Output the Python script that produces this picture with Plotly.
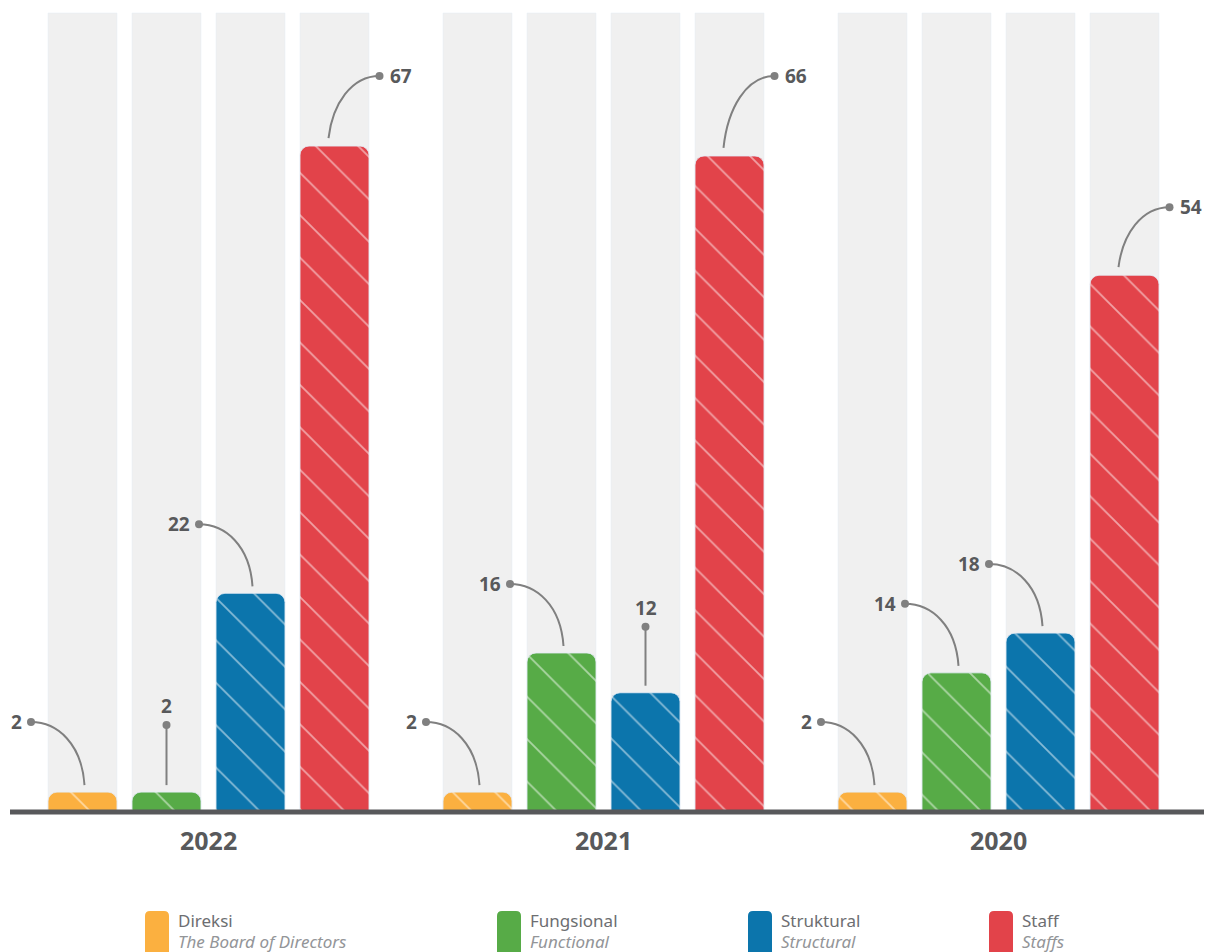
import plotly.graph_objects as go

# ---- data ----
years = ["2022", "2021", "2020"]
series_names = ["Direksi", "Fungsional", "Struktural", "Staff"]
series_en = ["The Board of Directors", "Functional", "Structural", "Staffs"]
direksi = [2, 2, 2]
fungsional = [2, 16, 14]
struktural = [22, 12, 18]
staff = [67, 66, 54]
# callout style for each bar: L = left curve, V = vertical, R = right curve
callout_styles = [["L", "V", "L", "R"], ["L", "L", "V", "R"], ["L", "L", "L", "R"]]
# height (px) of the callout dot above each bar top
callout_rise = [[70, 67, 69, 70], [70, 69, 66, 80], [70, 69, 69, 68]]

colors = ["#FBB040", "#57AB47", "#0C75AC", "#E2434A"]
BG = "#F0F0F0"
TXT = "#58595B"
LINE = "#808080"

OFF = 8                          # page body margin
W, H = 1212 - OFF, 952 - OFF
BASE_PX = 812                    # baseline in window pixels
PLOT_H = BASE_PX - OFF
PXU = 9.94                       # pixels per unit
YMAX = PLOT_H / PXU
BG_VAL = (BASE_PX - 13) / PXU
group_starts = [48, 443, 838]
BW, STEP = 69, 84

values = [direksi, fungsional, struktural, staff]

def cx(g, i):
    return group_starts[g] + BW / 2 + i * STEP

def py(p):  # window pixel y -> paper y
    return (BASE_PX - p) / PLOT_H

def px(p):  # window pixel x -> paper x
    return (p - OFF) / W

fig = go.Figure()

# background bars (own axes so they do not block corner rounding)
bx = [cx(g, i) for g in range(3) for i in range(4)]
fig.add_trace(go.Bar(x=bx, y=[BG_VAL] * len(bx), width=BW, offset=-BW / 2,
                     marker=dict(color=BG), hoverinfo="skip", showlegend=False,
                     xaxis="x", yaxis="y"))

# solid rounded bars
for i, name in enumerate(series_names):
    fig.add_trace(go.Bar(
        x=[cx(g, i) for g in range(3)], y=values[i], width=BW, offset=-BW / 2, name=name,
        marker=dict(color=colors[i], cornerradius=9), showlegend=False,
        xaxis="x2", yaxis="y2"))

# white hatch overlay
for i, name in enumerate(series_names):
    fig.add_trace(go.Bar(
        x=[cx(g, i) for g in range(3)], y=values[i], width=BW, offset=-BW / 2, name=name,
        marker=dict(color="rgba(0,0,0,0)", cornerradius=9,
                    pattern=dict(shape="\\", fgcolor="white", size=30, solidity=0.06, fillmode="overlay")),
        hoverinfo="skip", showlegend=False, xaxis="x3", yaxis="y3"))

dots_x, dots_y = [], []
shapes = []
annotations = []
for g in range(3):
    for i in range(4):
        v = values[i][g]
        c = cx(g, i)
        st = callout_styles[g][i]
        rise = callout_rise[g][i] / PXU
        if st == "L":
            dx, dy = group_starts[g] + i * STEP - 17, v + rise
            ex, ey = c + 2, v + 7 / PXU
            path = (f"M {dx},{dy} C {dx + 0.5 * (ex - dx)},{dy} {ex - 0.05 * (ex - dx)},{dy + 0.35 * (ey - dy)} {ex},{ey}")
            annotations.append(dict(x=dx - 7, y=dy, xref="x", yref="y", text=f"<b>{v}</b>", showarrow=False,
                                    xanchor="right", yanchor="middle", font=dict(size=19, color=TXT)))
        elif st == "V":
            dx, dy = c, v + rise
            ex, ey = c, v + 7 / PXU
            path = f"M {dx},{dy} L {ex},{ey}"
            annotations.append(dict(x=dx, y=dy, xref="x", yref="y", text=f"<b>{v}</b>", showarrow=False,
                                    xanchor="center", yanchor="bottom", yshift=4, font=dict(size=19, color=TXT)))
        else:
            sx, sy = c - 6, v + 8 / PXU
            dx, dy = c + 45, v + rise
            path = (f"M {sx},{sy} C {sx + 0.08 * (dx - sx)},{sy + 0.55 * (dy - sy)} {sx + 0.45 * (dx - sx)},{dy} {dx},{dy}")
            annotations.append(dict(x=dx + 8, y=dy, xref="x", yref="y", text=f"<b>{v}</b>", showarrow=False,
                                    xanchor="left", yanchor="middle", font=dict(size=19, color=TXT)))
        shapes.append(dict(type="path", path=path, xref="x", yref="y", line=dict(color=LINE, width=2)))
        dots_x.append(dx)
        dots_y.append(dy)

fig.add_trace(go.Scatter(x=dots_x, y=dots_y, mode="markers", marker=dict(size=8, color=LINE),
                         hoverinfo="skip", showlegend=False, xaxis="x3", yaxis="y3"))

# baseline
shapes.append(dict(type="line", xref="paper", yref="paper", x0=px(10), x1=px(1205), y0=0, y1=0,
                   line=dict(color=TXT, width=5)))

# year labels
for g, yr in enumerate(years):
    gc = (cx(g, 0) + cx(g, 3)) / 2
    annotations.append(dict(x=gc, y=py(840), xref="x", yref="paper", text=f"<b>{yr}</b>", showarrow=False,
                            xanchor="center", yanchor="middle", font=dict(size=25, color=TXT)))

# legend
leg_x = [145, 497, 748, 989]
for i in range(4):
    x0, x1 = leg_x[i], leg_x[i] + 24
    t, b, r = 911, 960, 5
    path = (f"M {px(x0)},{py(b)} L {px(x0)},{py(t + r)} Q {px(x0)},{py(t)} {px(x0 + r)},{py(t)} "
            f"L {px(x1 - r)},{py(t)} Q {px(x1)},{py(t)} {px(x1)},{py(t + r)} L {px(x1)},{py(b)} Z")
    shapes.append(dict(type="path", path=path, xref="paper", yref="paper", fillcolor=colors[i],
                       line=dict(width=0)))
    annotations.append(dict(x=px(x1 + 7), y=py(920), xref="paper", yref="paper", text=series_names[i],
                            showarrow=False, xanchor="left", yanchor="middle",
                            font=dict(size=17, color="#6D6E71")))
    annotations.append(dict(x=px(x1 + 7), y=py(941), xref="paper", yref="paper", text=f"<i>{series_en[i]}</i>",
                            showarrow=False, xanchor="left", yanchor="middle",
                            font=dict(size=17, color="#939598")))

ax_x = dict(range=[OFF, 1212], showgrid=False, zeroline=False, showticklabels=False, ticks="",
            showline=False, fixedrange=True)
ax_y = dict(range=[0, YMAX], showgrid=False, zeroline=False, showticklabels=False, ticks="",
            showline=False, fixedrange=True)

fig.update_layout(
    width=W, height=H, margin=dict(l=0, r=0, t=0, b=H - PLOT_H),
    barmode="group", plot_bgcolor="white", paper_bgcolor="white",
    font=dict(family="Noto Sans, Open Sans, sans-serif"),
    xaxis=ax_x, yaxis=ax_y,
    xaxis2=dict(ax_x, overlaying="x"), yaxis2=dict(ax_y, overlaying="y"),
    xaxis3=dict(ax_x, overlaying="x"), yaxis3=dict(ax_y, overlaying="y"),
    shapes=shapes, annotations=annotations, showlegend=False,
)

fig.write_html("out.html")
